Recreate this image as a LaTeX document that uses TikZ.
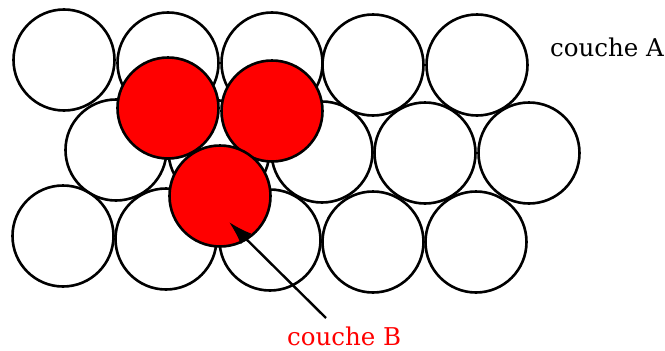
\documentclass[tikz,border=0pt]{standalone}
\usepackage{tikz}
\usetikzlibrary{arrows.meta}
\usepackage{xcolor}
\usepackage{fontspec}
\setmainfont{DejaVu Serif}

\tikzset{
  sphere/.style={circle, draw=black, line width=2.6pt, minimum size=101pt, inner sep=0pt},
  redsphere/.style={sphere, fill=red},
  layer/.style={inner sep=0pt, font=\fontsize{24.5}{29}\selectfont},
}

\begin{document}
\begin{tikzpicture}[x=1pt, y=-1pt]
  \useasboundingbox (0,0) rectangle (665,351);

  % Layer A, first row
  \foreach \i/\x/\y in {1/64/60, 2/168/63, 3/272/63, 4/373/65, 5/477/65}
    \node[sphere] (a\i) at (\x,\y) {};

  % Layer A, second row
  \foreach \i/\x/\y in {1/116/150, 2/219/151, 3/322/152, 4/425/153, 5/529/153}
    \node[sphere] (b\i) at (\x,\y) {};

  % Layer A, third row
  \foreach \i/\x/\y in {1/63/236, 2/166/239, 3/270/240, 4/373/242, 5/476/242}
    \node[sphere] (c\i) at (\x,\y) {};

  % Layer B
  \node[redsphere] (r1) at (168,108) {};
  \node[redsphere] (r2) at (272,111) {};
  \node[redsphere] (r3) at (220,196) {};

  % Labels
  \node[layer, anchor=base west] (coucheA) at (550,56) {couche A};
  \node[layer, anchor=base west, text=red] (coucheB) at (287,345) {couche B};

  % Arrow
  \coordinate (tipB) at (229,222);
  \coordinate (tailB) at (326,318);
  \draw[line width=2.4pt, -{Latex[length=24pt,width=15pt]}] (tailB) -- (tipB);
\end{tikzpicture}
\end{document}
